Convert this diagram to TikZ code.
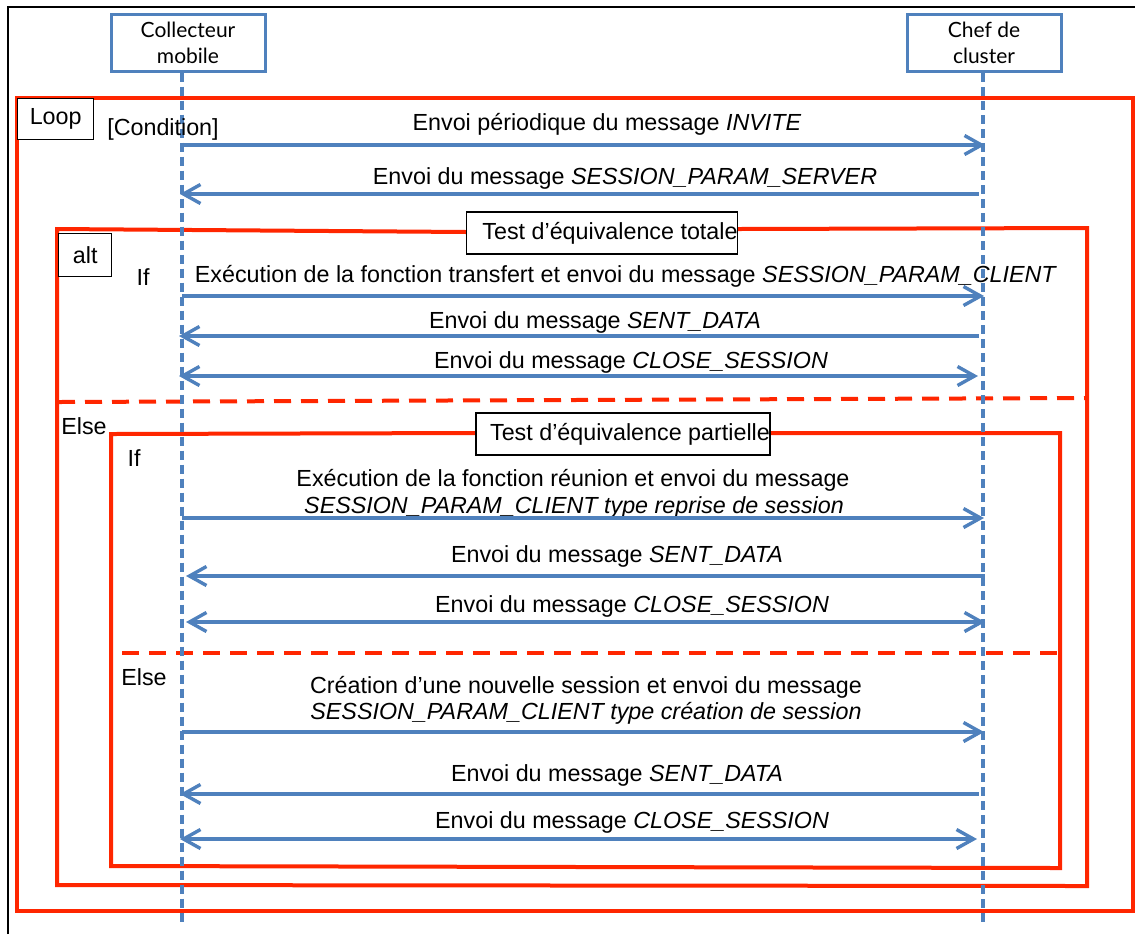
\documentclass[tikz,border=0pt]{standalone}
\usepackage{fontspec}
\setmainfont{Liberation Sans}
\newfontfamily\boxfont{Lato}
\usetikzlibrary{arrows.meta}
\definecolor{ublue}{RGB}{79,129,189}
\definecolor{ured}{RGB}{255,38,0}
\begin{document}
\begin{tikzpicture}[x=0.5pt,y=-0.5pt,
  msg/.style={font=\fontsize{11.65}{14}\selectfont, inner sep=0pt, text height=8.3pt, text depth=0pt},
  lab/.style={draw=black, line width=0.7pt, fill=white, inner sep=0pt, font=\fontsize{11.65}{14}\selectfont},
  lbox/.style={draw=ublue, line width=1.5pt, fill=white, align=center, inner sep=0pt,
    minimum width=77pt, minimum height=28.5pt, font=\boxfont\fontsize{10.5}{13}\selectfont},
  lline/.style={ublue, line width=1.7pt, dash pattern=on 4.5pt off 2.5pt},
  redline/.style={ured, line width=2pt},
  reddash/.style={ured, line width=2pt, dash pattern=on 8.5pt off 5pt},
  tip/.tip={Straight Barb[length=8.5pt,width=9.5pt]},
  arr/.style={ublue, line width=1.7pt, -tip},
  larr/.style={ublue, line width=1.7pt, tip-},
  barr/.style={ublue, line width=1.7pt, tip-tip},
]
\useasboundingbox (0,0) rectangle (1135,934);
\fill[white] (0,0) rectangle (1135,934);
% outer black frame
\draw[black, line width=1pt] (8,934) -- (8,7) -- (1135,7);

% lifeline heads
\node[lbox] (cm) at (188,42.5) {Collecteur\\mobile};
\node[lbox] (ch) at (984,43) {Chef de\\cluster};
\coordinate (cmend) at (182,922);
\coordinate (chend) at (983,922);

% red frames
\draw[redline] (17,98) rectangle (1133,911);
\draw[redline] (467,232) -- (57,229) -- (57,885) -- (1087,886) -- (1087,228) -- (737,229);
\draw[redline] (478,433) -- (111,434) -- (111,866) -- (1060,868) -- (1060,433) -- (769,433);
\draw[reddash] (58,402) -- (1087,398);
\draw[reddash] (122,653) -- (1060,653);

% lifelines
\draw[lline] (cm.south -| cmend) -- (cmend);
\draw[lline] (ch.south -| chend) -- (chend);

% frame labels
\node[lab, anchor=north west, minimum width=38pt, minimum height=20.5pt] (loopl) at (17,98) {Loop};
\node[msg] (cond) at (163,127) {[Condition]};
\node[lab, anchor=north west, minimum width=26.5pt, minimum height=21.5pt] (altl) at (58,233) {alt};
\node[msg] (if1) at (143,277) {If};
\node[msg] (else1) at (84,426) {Else};
\node[msg] (if2) at (134,458) {If};
\node[msg] (else2) at (144,677) {Else};
\node[lab, minimum width=135pt, minimum height=21pt] (ttot) at (602,233) {\hspace*{8pt}Test d’équivalence totale};
\node[lab, minimum width=146pt, minimum height=21pt] (tpar) at (623,434) {\hspace*{7pt}Test d’équivalence partielle};

% messages
\node[msg] (t1) at (607,122) {Envoi périodique du message \textit{INVITE}};
\coordinate (m1a) at (182,145); \coordinate (m1b) at (985,145);
\draw[arr] (m1a) -- (m1b);

\node[msg] (t2) at (625,176) {Envoi du message \textit{SESSION\_PARAM\_SERVER}};
\coordinate (m2a) at (180,194); \coordinate (m2b) at (979,194);
\draw[larr] (m2a) -- (m2b);

\node[msg] (t3) at (626,274) {Exécution de la fonction transfert et envoi du message \textit{SESSION\_PARAM\_CLIENT}};
\coordinate (m3a) at (182,296); \coordinate (m3b) at (984,296);
\draw[arr] (m3a) -- (m3b);

\node[msg] (t4) at (595,320) {Envoi du message \textit{SENT\_DATA}};
\coordinate (m4a) at (179,336); \coordinate (m4b) at (979,336);
\draw[larr] (m4a) -- (m4b);

\node[msg] (t5) at (631,360) {Envoi du message \textit{CLOSE\_SESSION}};
\coordinate (m5a) at (179,376); \coordinate (m5b) at (978,376);
\draw[barr] (m5a) -- (m5b);

\node[msg] (t6a) at (573,478) {Exécution de la fonction réunion et envoi du message};
\node[msg] (t6b) at (574,505) {\textit{SESSION\_PARAM\_CLIENT type reprise de session}};
\coordinate (m6a) at (182,518); \coordinate (m6b) at (984,518);
\draw[arr] (m6a) -- (m6b);

\node[msg] (t7) at (617,554) {Envoi du message \textit{SENT\_DATA}};
\coordinate (m7a) at (186,576); \coordinate (m7b) at (985,576);
\draw[larr] (m7a) -- (m7b);

\node[msg] (t8) at (632,604) {Envoi du message \textit{CLOSE\_SESSION}};
\coordinate (m8a) at (186,622); \coordinate (m8b) at (985,622);
\draw[barr] (m8a) -- (m8b);

\node[msg] (t9a) at (586,685) {Création d’une nouvelle session et envoi du message};
\node[msg] (t9b) at (586,711) {\textit{SESSION\_PARAM\_CLIENT type création de session}};
\coordinate (m9a) at (182,732); \coordinate (m9b) at (984,732);
\draw[arr] (m9a) -- (m9b);

\node[msg] (t10) at (617,773) {Envoi du message \textit{SENT\_DATA}};
\coordinate (m10a) at (180,794); \coordinate (m10b) at (979,794);
\draw[larr] (m10a) -- (m10b);

\node[msg] (t11) at (632,820) {Envoi du message \textit{CLOSE\_SESSION}};
\coordinate (m11a) at (180,839); \coordinate (m11b) at (977,839);
\draw[barr] (m11a) -- (m11b);
\end{tikzpicture}
\end{document}
